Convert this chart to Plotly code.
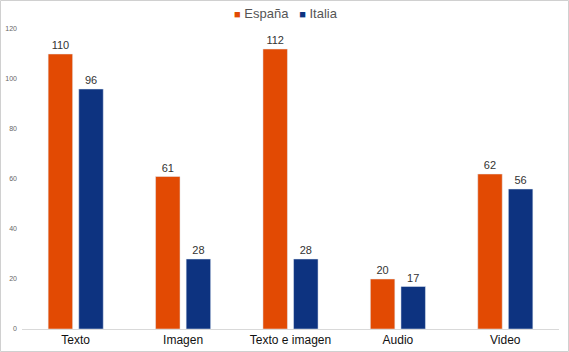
import plotly.graph_objects as go

categories = ["Texto", "Imagen", "Texto e imagen", "Audio", "Video"]
espana = [110, 61, 112, 20, 62]
italia = [96, 28, 28, 17, 56]
y_ticks = [0, 20, 40, 60, 80, 100, 120]
series_names = ["España", "Italia"]

ORANGE = "#E24A03"
BLUE = "#0D3380"

fig = go.Figure()
fig.add_trace(go.Bar(name=series_names[0], x=categories, y=espana, marker_color=ORANGE,
                     text=espana, textposition="outside",
                     textfont=dict(size=11, color="#333333"), cliponaxis=False))
fig.add_trace(go.Bar(name=series_names[1], x=categories, y=italia, marker_color=BLUE,
                     text=italia, textposition="outside",
                     textfont=dict(size=11, color="#333333"), cliponaxis=False))

legend_text = (f"<span style='color:{ORANGE};font-size:11px'>■</span> {series_names[0]}"
               f"&nbsp;&nbsp;&nbsp;<span style='color:{BLUE};font-size:11px'>■</span> {series_names[1]}")

fig.update_layout(
    width=569, height=352,
    margin=dict(l=22, r=10, t=29, b=23, autoexpand=False),
    paper_bgcolor="white", plot_bgcolor="white",
    font=dict(family="Liberation Sans, Arial, sans-serif"),
    barmode="group", bargap=0.43, bargroupgap=0.2,
    showlegend=False,
    xaxis=dict(showline=True, linecolor="#D9D9D9", linewidth=1, ticks="",
               tickfont=dict(size=12, color="#111111"), showgrid=False,
               automargin=False),
    yaxis=dict(range=[0, 120], tickvals=y_ticks, showgrid=False, zeroline=False,
               showline=False, tickfont=dict(size=7, color="#666666"),
               automargin=False, ticklabelstandoff=4),
    annotations=[dict(text=legend_text, xref="paper", yref="paper",
                      x=(286-22)/537, y=1 + (29-14)/300, xanchor="center", yanchor="middle",
                      showarrow=False, font=dict(size=13, color="#555555"))],
    shapes=[dict(type="rect", xref="paper", yref="paper",
                 x0=-21.5/537, x1=(568.5-22)/537, y0=(329-351.5)/300, y1=1+28.5/300,
                 line=dict(color="#D0D0D0", width=1), fillcolor="rgba(0,0,0,0)",
                 layer="below")],
)

fig.write_html("out.html", config={"displayModeBar": False},
               post_script="document.body.style.margin='0';document.body.style.overflow='hidden';")
